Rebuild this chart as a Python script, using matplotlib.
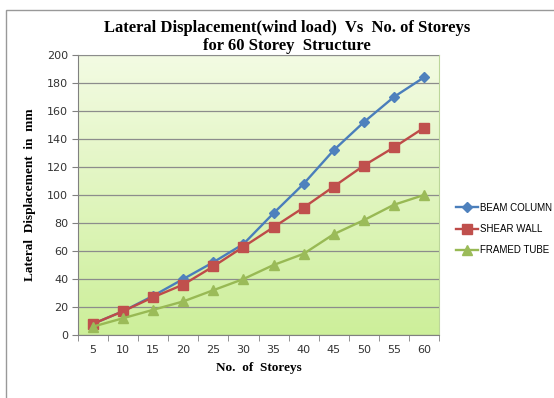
import numpy as np
import matplotlib.pyplot as plt
from matplotlib.patches import Rectangle
from matplotlib.colors import LinearSegmentedColormap

storeys = [5, 10, 15, 20, 25, 30, 35, 40, 45, 50, 55, 60]
beam_column = [8, 17, 28, 40, 52, 65, 87, 108, 132, 152, 170, 184]
shear_wall = [8, 17, 27, 36, 49, 63, 77, 91, 106, 121, 134, 148]
framed_tube = [6, 12, 18, 24, 32, 40, 50, 58, 72, 82, 93, 100]

fig = plt.figure(figsize=(5.54, 3.98), dpi=100)
ax = fig.add_axes([78 / 554, 1 - 335 / 398, (439 - 78) / 554, (335 - 55) / 398])

# plot area gradient, pale at top to green at bottom
grad = LinearSegmentedColormap.from_list('g', ['#cdef9a', '#f3fbe3'])
ax.imshow(np.linspace(0, 1, 256).reshape(-1, 1), cmap=grad, origin='lower',
          extent=[0, 1, 0, 1], transform=ax.transAxes, aspect='auto', zorder=0)

x = np.arange(len(storeys))
ax.plot(x, beam_column, color='#4a7ebb', marker='D', ms=5, mfc='#4f81bd',
        mec='#4f81bd', lw=1.7, label='BEAM COLUMN', zorder=4)
ax.plot(x, shear_wall, color='#be4b48', marker='s', ms=6.5, mfc='#c0504d',
        mec='#c0504d', lw=1.7, label='SHEAR WALL', zorder=4)
ax.plot(x, framed_tube, color='#98b954', marker='^', ms=6.5, mfc='#9bbb59',
        mec='#9bbb59', lw=1.7, label='FRAMED TUBE', zorder=4)

ax.set_xlim(-0.5, len(storeys) - 0.5)
ax.set_ylim(0, 200)
ax.set_yticks(range(0, 201, 20))
ax.set_xticks(x)
ax.set_xticklabels([str(s) for s in storeys])
ax.set_xticks(np.arange(-0.5, len(storeys)), minor=True)
ax.tick_params(axis='x', which='major', length=0, pad=7)
ax.tick_params(axis='x', which='minor', length=4, color='#808080')
ax.tick_params(axis='y', length=4, color='#808080', pad=3)
ax.tick_params(labelsize=8, labelcolor='#333333')
ax.grid(axis='y', color='#8c8c8c', lw=0.9)
ax.set_axisbelow(False)
for line in ax.get_ygridlines():
    line.set_zorder(1)

for s in ['left', 'bottom']:
    ax.spines[s].set_color('#808080')
for s in ['top', 'right']:
    ax.spines[s].set_color('#bcd69a')

serif = ['Liberation Serif', 'DejaVu Serif']
fig.text(0.518, 1 - 28 / 398, 'Lateral Displacement(wind load)  Vs  No. of Storeys',
         ha='center', va='center', family=serif, weight='bold', fontsize=12)
fig.text(0.518, 1 - 46 / 398, 'for 60 Storey  Structure',
         ha='center', va='center', family=serif, weight='bold', fontsize=12)
ax.set_xlabel('No.  of  Storeys', family=serif, weight='bold', fontsize=9.5, labelpad=5)
ax.set_ylabel('Lateral  Displacement  in  mm', family=serif, weight='bold',
              fontsize=9.5, labelpad=8)

fig.legend(loc='center left', bbox_to_anchor=(452 / 554, 1 - 229 / 398),
           frameon=False, prop={'family': 'Liberation Sans', 'size': 7},
           handlelength=2.3, handletextpad=0.2, labelspacing=1.15, borderaxespad=0)

fig.patches.append(Rectangle((6 / 554, -0.1), 2, 1.1 - 10 / 398, transform=fig.transFigure,
                             fill=False, ec='#999999', lw=1))

fig.savefig('out.png', dpi=100)
